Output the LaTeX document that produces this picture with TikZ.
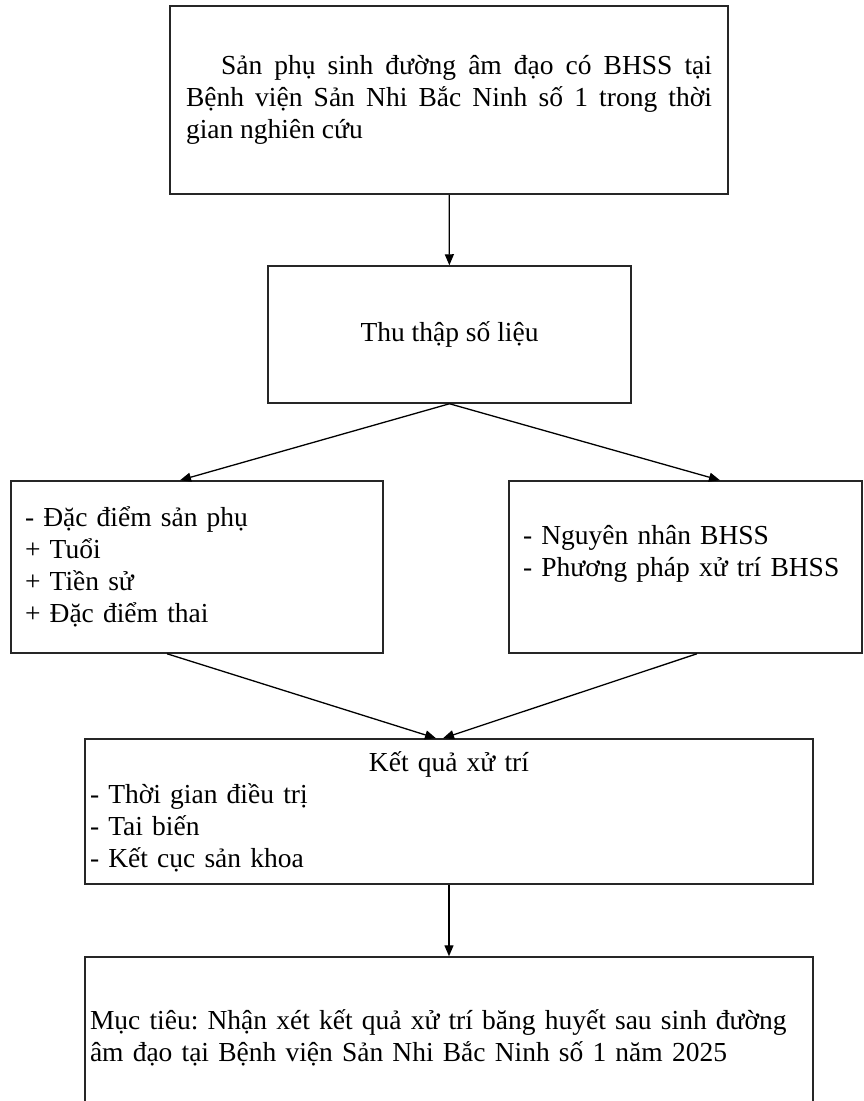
\documentclass[tikz,border=0pt]{standalone}
\usepackage{fontspec}
\setmainfont{Liberation Serif}
\frenchspacing
\usetikzlibrary{arrows.meta}

\begin{document}
\begin{tikzpicture}[x=1pt, y=-1pt,
    box/.style={draw=black!85, line width=1.5pt, inner sep=0pt,
      font=\fontsize{27.5}{32}\selectfont},
    arr/.style={-{Triangle[length=11pt,width=9pt]}, line width=1.3pt}]
  \useasboundingbox (0,0) rectangle (863,1101);
  \clip (0,0) rectangle (863,1101);

  % Top box: population
  \node[box, minimum width=558pt, minimum height=188pt, text width=526pt, align=justify]
    (sanphu) at (449,100) {\hspace*{35pt}Sản phụ sinh đường âm đạo có BHSS tại\linebreak
    Bệnh viện Sản Nhi Bắc Ninh số 1 trong thời\linebreak gian nghiên cứu};

  % Data collection
  \node[box, minimum width=363pt, minimum height=137pt] (thuthap) at (449.5,334.5) {Thu thập số liệu};

  % Two branches
  \node[box, minimum width=372pt, minimum height=172pt, text width=344pt, align=left]
    (dacdiem) at (197,567) {- Đặc điểm sản phụ\\+ Tuổi\\+ Tiền sử\\+ Đặc điểm thai};
  \node[box, minimum width=353pt, minimum height=172pt, text width=325pt, align=left]
    (nguyennhan) at (685.5,567) {- Nguyên nhân BHSS\\- Phương pháp xử trí BHSS\\\mbox{}};

  % Results
  \node[box, minimum width=728pt, minimum height=145pt, text width=718pt, align=left]
    (ketqua) at (449,811.5) {\makebox[718pt]{Kết quả xử trí}\\- Thời gian điều trị\\- Tai biến\\- Kết cục sản khoa};

  % Objective (bottom edge runs off the page)
  \node[box, minimum width=728pt, minimum height=162pt, text width=718pt, align=left]
    (muctieu) at (449,1038) {Mục tiêu: Nhận xét kết quả xử trí băng huyết sau sinh đường\\
    âm đạo tại Bệnh viện Sản Nhi Bắc Ninh số 1 năm 2025};

  % Arrows
  \draw[arr] (sanphu) -- (thuthap);
  \draw[arr] (thuthap.south) -- ([xshift=-17pt]dacdiem.north);
  \draw[arr] (thuthap.south) -- ([xshift=34.5pt]nguyennhan.north);
  \draw[arr] ([xshift=-30pt]dacdiem.south) -- ([xshift=-13pt]ketqua.north);
  \draw[arr] ([xshift=11.5pt]nguyennhan.south) -- ([xshift=-6pt]ketqua.north);
  \draw[arr] (ketqua) -- (muctieu);

\end{tikzpicture}
\end{document}
